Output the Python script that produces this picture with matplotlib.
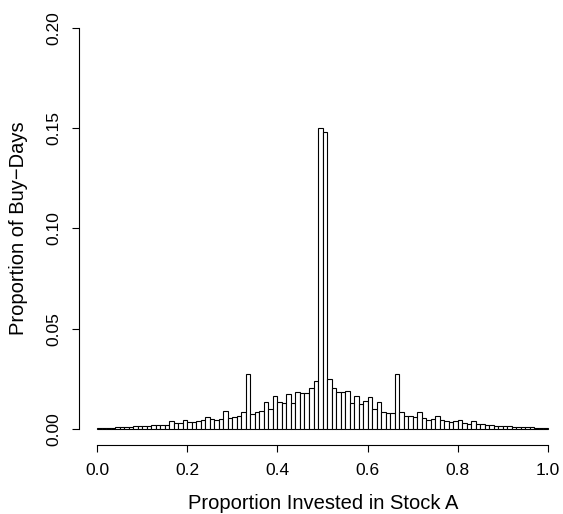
import numpy as np
import matplotlib
matplotlib.use('Agg')
import matplotlib.pyplot as plt

plt.rcParams['font.family'] = ['Liberation Sans', 'DejaVu Sans']

# proportion of buy-days in each 0.01-wide bin of stock A share
bin_edges = np.linspace(0.0, 1.0, 101)
proportions = [
    0.0003, 0.0004, 0.0005, 0.0007, 0.0008, 0.0008, 0.0010, 0.0010, 0.0013, 0.0017,
    0.0015, 0.0017, 0.0020, 0.0020, 0.0020, 0.0022, 0.0040, 0.0028, 0.0030, 0.0043,
    0.0035, 0.0035, 0.0039, 0.0044, 0.0062, 0.0050, 0.0045, 0.0050, 0.0089, 0.0055,
    0.0061, 0.0066, 0.0084, 0.0275, 0.0075, 0.0083, 0.0088, 0.0134, 0.0100, 0.0163,
    0.0136, 0.0128, 0.0172, 0.0128, 0.0185, 0.0178, 0.0178, 0.0205, 0.0237, 0.1500,
    0.1480, 0.0247, 0.0202, 0.0183, 0.0182, 0.0188, 0.0128, 0.0162, 0.0127, 0.0140,
    0.0158, 0.0100, 0.0133, 0.0085, 0.0080, 0.0078, 0.0275, 0.0083, 0.0063, 0.0063,
    0.0060, 0.0087, 0.0055, 0.0047, 0.0052, 0.0065, 0.0047, 0.0040, 0.0037, 0.0040,
    0.0043, 0.0032, 0.0027, 0.0040, 0.0027, 0.0025, 0.0020, 0.0020, 0.0017, 0.0017,
    0.0015, 0.0013, 0.0010, 0.0010, 0.0010, 0.0008, 0.0008, 0.0007, 0.0005, 0.0004,
]
x_ticks = [0.0, 0.2, 0.4, 0.6, 0.8, 1.0]
y_ticks = [0.00, 0.05, 0.10, 0.15, 0.20]

W, H = 563, 514
fig = plt.figure(figsize=(W / 100, H / 100), dpi=100)
# plot region: x data 0..1 spans px 97..548, y 0..0.2 spans px 429..28
ax_w = W - 79
ax_h = 433
ax = fig.add_axes([79 / W, (H - 445) / H, ax_w / W, ax_h / H])
ax.set_xlim(-0.04, (W - 97) / 451)
ax.set_ylim(-0.008, 0.208)

ax.bar(bin_edges[:-1], proportions, width=np.diff(bin_edges), align='edge',
       facecolor='white', edgecolor='black', linewidth=0.8)

for side in ['top', 'right']:
    ax.spines[side].set_visible(False)
ax.spines['left'].set_bounds(0, 0.2)
ax.spines['bottom'].set_bounds(0, 1)
ax.spines['left'].set_linewidth(0.8)
ax.spines['bottom'].set_linewidth(0.8)

ax.set_xticks(x_ticks)
ax.set_xticklabels(['%.1f' % v for v in x_ticks])
ax.set_yticks(y_ticks)
ax.set_yticklabels(['%.2f' % v for v in y_ticks], rotation=90, va='center')
ax.tick_params(axis='both', direction='out', length=5, width=0.8,
               labelsize=12.5, pad=8)

# x label centred under the 0..1 span of the axis
ax.set_xlabel('Proportion Invested in Stock A', fontsize=14.5, va='baseline')
ax.xaxis.set_label_coords((323 - 79) / ax_w, -(509 - 445) / ax_h)
ax.set_ylabel('Proportion of Buy\u2212Days', fontsize=14.5, va='center')
ax.yaxis.set_label_coords(-(79 - 19) / ax_w, 0.5)

fig.savefig('out.png', dpi=100)
